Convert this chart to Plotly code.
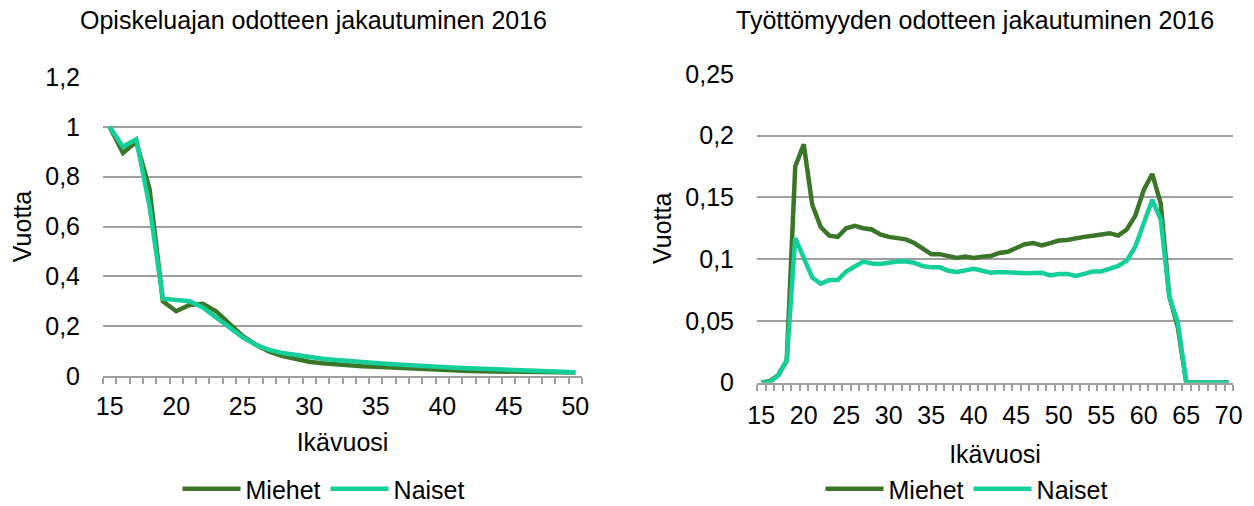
import plotly.graph_objects as go

# Opiskeluajan odote, iät 15-50
ika_opiskelu = list(range(15, 51))
opiskelu_miehet = [1.0, 0.895, 0.94, 0.75, 0.30, 0.26, 0.285, 0.29, 0.26, 0.21,
                   0.16, 0.125, 0.098, 0.08, 0.067, 0.057, 0.051, 0.046, 0.042, 0.039,
                   0.037, 0.034, 0.031, 0.028, 0.025, 0.022, 0.021, 0.02, 0.019, 0.018,
                   0.017, 0.016, 0.016, 0.015, 0.015, 0.014]
opiskelu_naiset = [1.0, 0.92, 0.95, 0.68, 0.31, 0.305, 0.30, 0.275, 0.235, 0.195,
                   0.155, 0.125, 0.105, 0.092, 0.083, 0.075, 0.069, 0.064, 0.059, 0.055,
                   0.051, 0.048, 0.045, 0.041, 0.038, 0.035, 0.033, 0.031, 0.029, 0.027,
                   0.025, 0.023, 0.021, 0.019, 0.017, 0.015]

# Työttömyyden odote, iät 15-70
ika_tyottomyys = list(range(15, 71))
tyott_miehet = [0, 0.001, 0.006, 0.018, 0.175, 0.193, 0.144, 0.126, 0.119, 0.118,
                0.125, 0.127, 0.125, 0.124, 0.120, 0.118, 0.117, 0.116, 0.113, 0.109,
                0.104, 0.104, 0.1025, 0.101, 0.102, 0.101, 0.102, 0.1025, 0.105, 0.106,
                0.109, 0.112, 0.113, 0.111, 0.113, 0.115, 0.1155, 0.117, 0.118, 0.119,
                0.120, 0.121, 0.119, 0.124, 0.135, 0.156, 0.169, 0.145, 0.07, 0.045,
                0, 0, 0, 0, 0, 0]
tyott_naiset = [0, 0, 0.006, 0.018, 0.117, 0.102, 0.085, 0.080, 0.083, 0.083,
                0.090, 0.094, 0.098, 0.0965, 0.096, 0.097, 0.098, 0.098, 0.097, 0.0944,
                0.0933, 0.0933, 0.0906, 0.0895, 0.0906, 0.0922, 0.0906, 0.089, 0.0895, 0.0895,
                0.089, 0.0885, 0.089, 0.089, 0.0868, 0.088, 0.088, 0.0863, 0.088, 0.090,
                0.090, 0.0925, 0.0944, 0.0987, 0.110, 0.129, 0.148, 0.132, 0.0695, 0.049,
                0, 0, 0, 0, 0, 0]

x_tick_opiskelu = list(range(15, 51, 5))
x_tick_tyott = list(range(15, 71, 5))

VARI_MIEHET = "#3B7628"
VARI_NAISET = "#14CF9A"
GRID = "#9f9f9f"
FONT = "Liberation Sans, Arial, sans-serif"
FS = 25
W, H = 1254, 506

fig = go.Figure()

for x, y, name, color, xa, ya, lg in [
    (ika_opiskelu, opiskelu_miehet, "Miehet", VARI_MIEHET, "x", "y", "legend"),
    (ika_opiskelu, opiskelu_naiset, "Naiset", VARI_NAISET, "x", "y", "legend"),
    (ika_tyottomyys, tyott_miehet, "Miehet", VARI_MIEHET, "x2", "y2", "legend2"),
    (ika_tyottomyys, tyott_naiset, "Naiset", VARI_NAISET, "x2", "y2", "legend2"),
]:
    fig.add_trace(go.Scatter(
        x=x, y=y, name=name, mode="lines",
        line=dict(color=color, width=4.5, shape="linear"),
        xaxis=xa, yaxis=ya, legend=lg,
    ))

def xaxis_conf(domain, rng, tickvals, lab_standoff, standoff):
    return dict(
        domain=domain, range=rng, tickvals=tickvals, ticks="",
        showgrid=False, zeroline=False, showline=True, linecolor=GRID, linewidth=2,
        tickfont=dict(size=FS, color="#000"), ticklabelstandoff=lab_standoff,
        minor=dict(ticks="outside", tick0=14.5, dtick=1, ticklen=6,
                   tickcolor=GRID, tickwidth=1.5, showgrid=False),
        title=dict(text="Ikävuosi", font=dict(size=FS, color="#000"), standoff=standoff),
        automargin=False, fixedrange=True,
    )

def yaxis_conf(domain, rng, dtick, anchor, standoff):
    return dict(
        domain=domain, range=rng, dtick=dtick, tick0=0, anchor=anchor,
        showgrid=True, gridcolor=GRID, gridwidth=2, zeroline=False, showline=False,
        ticks="", ticklabelstandoff=22,
        tickfont=dict(size=FS, color="#000"),
        title=dict(text="Vuotta", font=dict(size=FS, color="#000"), standoff=standoff),
        automargin=False, fixedrange=True,
    )

legend_common = dict(orientation="h", xanchor="center", yanchor="bottom", y=-0.012,
                     font=dict(size=FS), itemwidth=58, tracegroupgap=0,
                     bgcolor="rgba(0,0,0,0)")

fig.update_layout(
    width=W, height=H,
    margin=dict(l=0, r=0, t=0, b=0, autoexpand=False),
    paper_bgcolor="white", plot_bgcolor="white",
    separators=", ",
    font=dict(family=FONT, color="#000", size=FS),
    xaxis=xaxis_conf([103 / W, 582 / W], [14.5, 50.5], x_tick_opiskelu, 7, 14),
    yaxis=yaxis_conf([1 - 376 / H, 1 - 77 / H], [0, 1.2], 0.2, "x", 6),
    xaxis2=xaxis_conf([757 / W, 1233 / W], [14.5, 70.5], x_tick_tyott, 9, 18) | dict(anchor="y2"),
    yaxis2=yaxis_conf([1 - 382.5 / H, 1 - 74 / H], [0, 0.25], 0.05, "x2", 6),
    legend=legend_common | dict(x=324 / W),
    legend2=legend_common | dict(x=967 / W),
    annotations=[
        dict(text="Opiskeluajan odotteen jakautuminen 2016", x=313 / W, y=1 - 20 / H,
             xref="paper", yref="paper", showarrow=False, xanchor="center", yanchor="middle",
             font=dict(size=FS, color="#000")),
        dict(text="Työttömyyden odotteen jakautuminen 2016", x=975 / W, y=1 - 20 / H,
             xref="paper", yref="paper", showarrow=False, xanchor="center", yanchor="middle",
             font=dict(size=FS, color="#000")),
    ],
)

fig.write_html("out.html")
